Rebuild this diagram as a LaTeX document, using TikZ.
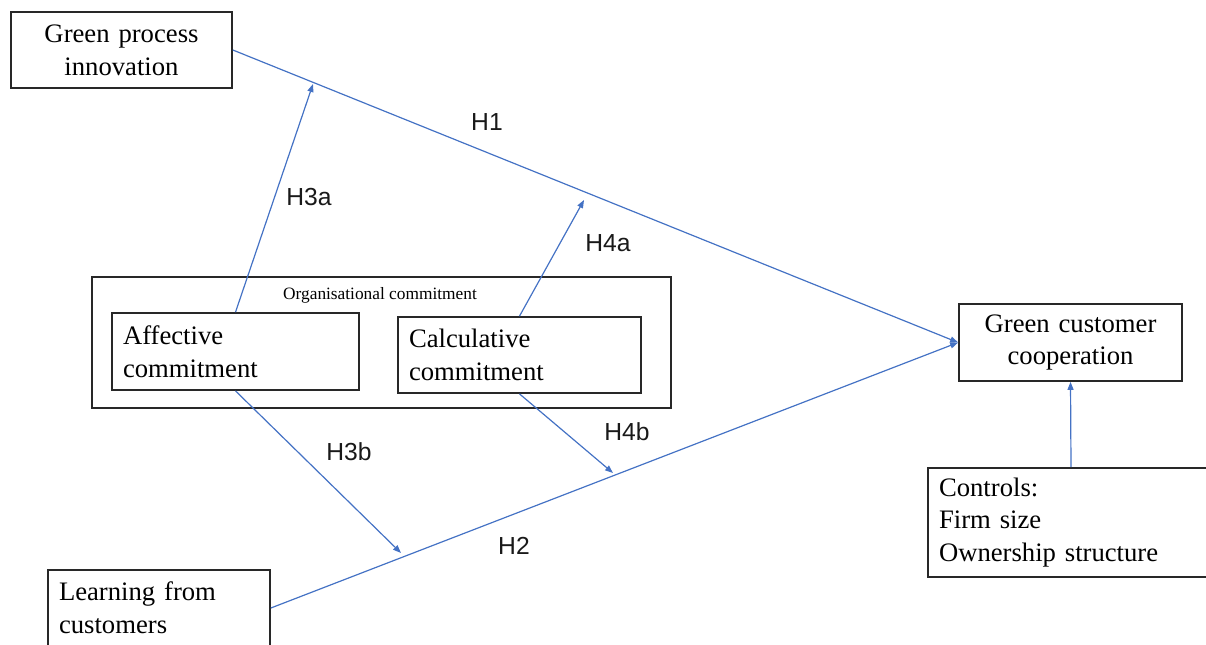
\documentclass[tikz,border=0pt]{standalone}
\usepackage{fontspec}
\setmainfont{Liberation Serif}
\newfontfamily\labelfont{Liberation Sans}
\usetikzlibrary{arrows.meta}
\definecolor{linkblue}{RGB}{68,114,196}
\definecolor{boxline}{RGB}{40,40,40}
\begin{document}
\begin{tikzpicture}[x=0.75pt,y=-0.75pt,
  box/.style={draw=boxline,line width=1.3pt,inner xsep=8.25pt,inner ysep=0pt,
    font=\fontsize{20}{24.5}\selectfont},
  lbox/.style={box,align=left},
  cbox/.style={box,align=center},
  link/.style={draw=linkblue,line width=0.9pt,-{Triangle[length=6pt,width=4.5pt]}},
  hlab/.style={font=\labelfont\fontsize{18.5}{20}\selectfont,text=black!90}
]
\useasboundingbox (0,0) rectangle (1206,644);
% outer group box
\node[draw=boxline,line width=1.3pt,minimum width=434.25pt,minimum height=98.25pt,inner sep=0pt] (org) at (381.5,342.5) {};
\node[font=\fontsize{13}{15}\selectfont] (orglab) at (380,295) {Organisational commitment};
% boxes
\node[cbox,text width=149.25pt,minimum height=57pt] (gpi) at (121.5,50) {Green process\\innovation};
\node[lbox,text width=168.75pt,minimum height=57.75pt] (aff) at (235.5,351.5) {Affective\\commitment};
\node[lbox,text width=165.75pt,minimum height=57pt] (calc) at (519.5,355) {Calculative\\commitment};
\node[cbox,text width=150.75pt,minimum height=57.75pt] (gcc) at (1070.5,342.5) {Green customer\\cooperation};
\node[lbox,text width=198pt,minimum height=81.75pt] (ctrl) at (1071,522.5) {Controls:\\Firm size\\Ownership structure};
\node[lbox,text width=150pt,minimum height=57pt] (lfc) at (159,608) {Learning from\\customers};
% free ends of moderating arrows
\coordinate (h3aend) at (313,84);
\coordinate (h4aend) at (584,200);
\coordinate (h3bend) at (401,553);
\coordinate (h4bend) at (613,473);
% connectors
\draw[link] (gpi.east) -- (gcc.west);
\draw[link] (lfc.east) -- (gcc.west);
\draw[link] (aff.north) -- (h3aend);
\draw[link] (calc.north) -- (h4aend);
\draw[link] (aff.south) -- (h3bend);
\draw[link] (calc.south) -- (h4bend);
\draw[link] (ctrl.north) -- (gcc.south);
% labels
\node[hlab] (lh1) at (487,122) {H1};
\node[hlab] (lh2) at (514,546) {H2};
\node[hlab] (lh3a) at (309,197) {H3a};
\node[hlab] (lh4a) at (608,243) {H4a};
\node[hlab] (lh3b) at (349,452) {H3b};
\node[hlab] (lh4b) at (627,432) {H4b};
\end{tikzpicture}
\end{document}
